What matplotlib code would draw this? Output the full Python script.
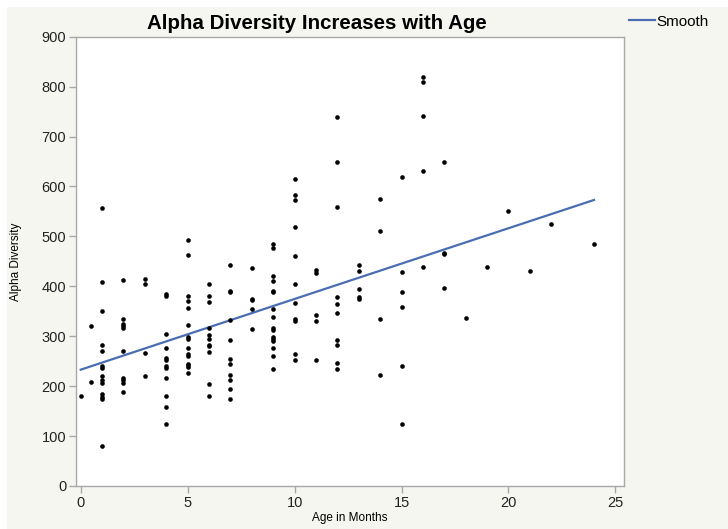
import matplotlib.pyplot as plt
from matplotlib.patches import Rectangle

# age (months) of each sample and its alpha diversity, one line per age
age_months = (
    [0]
    + [0.5] * 2
    + [1] * 14
    + [2] * 10
    + [3] * 4
    + [4] * 12
    + [5] * 15
    + [6] * 11
    + [7] * 11
    + [8] * 5
    + [9] * 16
    + [10] * 11
    + [11] * 5
    + [12] * 10
    + [13] * 5
    + [14] * 4
    + [15] * 6
    + [16] * 5
    + [17] * 4
    + [18, 19, 20, 21, 22, 24]
)
alpha_div = (
    [180]
    + [320, 208]
    + [557, 408, 351, 282, 270, 240, 237, 221, 213, 207, 184, 179, 175, 81]
    + [413, 334, 325, 320, 317, 270, 217, 212, 207, 188]
    + [415, 405, 267, 220]
    + [385, 381, 304, 277, 257, 252, 240, 237, 217, 180, 158, 124]
    + [493, 462, 381, 371, 357, 323, 299, 295, 276, 265, 261, 245, 242, 239, 227]
    + [404, 381, 369, 317, 303, 295, 282, 280, 268, 204, 180]
    + [442, 391, 389, 332, 292, 255, 244, 222, 213, 195, 175]
    + [437, 375, 372, 355, 314]
    + [484, 477, 420, 410, 391, 388, 355, 339, 317, 312, 298, 294, 290, 277, 261, 235]
    + [615, 583, 572, 519, 460, 404, 367, 334, 330, 264, 253]
    + [432, 427, 342, 331, 253]
    + [739, 649, 559, 379, 364, 347, 292, 282, 246, 235]
    + [443, 430, 395, 379, 374]
    + [575, 511, 335, 223]
    + [618, 429, 389, 359, 240, 125]
    + [820, 809, 741, 630, 439]
    + [649, 467, 465, 396]
    + [336, 439, 550, 431, 525, 485]
)

# smoother over the age range
smooth_x = [0, 24]
smooth_y = [233, 573]

x_ticks = [0, 5, 10, 15, 20, 25]
y_ticks = [0, 100, 200, 300, 400, 500, 600, 700, 800, 900]

plt.rcParams['font.family'] = ['Liberation Sans', 'DejaVu Sans']

fig = plt.figure(figsize=(7.28, 5.29), dpi=100, facecolor='#f6f6f1')
# thin white margin along the top and left edge
fig.patches.append(Rectangle((0, 0), 0.0096, 1, transform=fig.transFigure,
                             facecolor='white', edgecolor='none', zorder=-1))
fig.patches.append(Rectangle((0, 0.9868), 1, 0.0132, transform=fig.transFigure,
                             facecolor='white', edgecolor='none', zorder=-1))

ax = fig.add_axes([0.1044, 0.0813, 0.7527, 0.8493])
ax.set_facecolor('white')

ax.scatter(age_months, alpha_div, s=11, c='black', linewidths=0, zorder=3)
line, = ax.plot(smooth_x, smooth_y, color='#4a6db3', linewidth=1.6, zorder=2)

ax.set_xlim(-0.22, 25.4)
ax.set_ylim(0, 900)
ax.set_xticks(x_ticks)
ax.set_yticks(y_ticks)

for s in ax.spines.values():
    s.set_color('#a8a8a8')
    s.set_linewidth(1)
ax.tick_params(direction='out', length=5, width=1, color='#a8a8a8',
               labelsize=10.5, labelcolor='#222222', pad=2)

ax.set_xlabel('Age in Months', fontsize=8.5, labelpad=2)
ax.set_ylabel('Alpha Diversity', fontsize=8.5, labelpad=14)

fig.text(0.4354, 0.955, 'Alpha Diversity Increases with Age', ha='center',
         va='center', fontsize=14.8, fontweight='bold')

# legend entry at the upper right
fig.legend([line], ['Smooth'], loc='upper left', bbox_to_anchor=(0.855, 0.984),
           frameon=False, fontsize=11, handlelength=1.75, handletextpad=0.05,
           borderaxespad=0)

fig.savefig('out.png', dpi=100, facecolor=fig.get_facecolor())
